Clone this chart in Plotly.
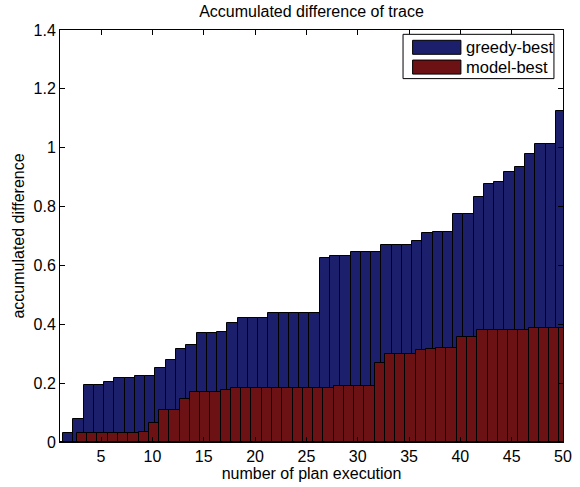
import plotly.graph_objects as go

runs = list(range(1, 51))
greedy_best = [0.0, 0.032, 0.078, 0.194, 0.194, 0.205, 0.218, 0.218, 0.225, 0.225,
               0.252, 0.278, 0.316, 0.329, 0.369, 0.369, 0.375, 0.406, 0.420, 0.420,
               0.420, 0.437, 0.437, 0.437, 0.437, 0.439, 0.624, 0.633, 0.633, 0.644,
               0.644, 0.644, 0.669, 0.669, 0.669, 0.683, 0.709, 0.714, 0.714, 0.776,
               0.776, 0.833, 0.878, 0.882, 0.918, 0.935, 0.980, 1.014, 1.014, 1.124]
model_best = [0.0, 0.0, 0.032, 0.032, 0.032, 0.032, 0.032, 0.032, 0.035, 0.063,
              0.109, 0.109, 0.146, 0.171, 0.171, 0.171, 0.177, 0.182, 0.182, 0.182,
              0.182, 0.182, 0.182, 0.182, 0.184, 0.184, 0.184, 0.190, 0.190, 0.190,
              0.190, 0.269, 0.299, 0.299, 0.299, 0.312, 0.316, 0.320, 0.320, 0.358,
              0.358, 0.380, 0.380, 0.382, 0.382, 0.382, 0.389, 0.389, 0.389, 0.389]
x_ticks = [5, 10, 15, 20, 25, 30, 35, 40, 45, 50]
y_ticks = [0, 0.2, 0.4, 0.6, 0.8, 1.0, 1.2, 1.4]
series_names = ["greedy-best", "model-best"]

BLUE = "#1c206c"
RED = "#6c1214"
FONT = "Liberation Sans, Arial, sans-serif"

fig = go.Figure()
fig.add_trace(go.Bar(x=runs, y=greedy_best, name=series_names[0], width=1.0, offset=-0.7,
                     marker=dict(color=BLUE, line=dict(color="black", width=1)),
                     showlegend=False))
fig.add_trace(go.Bar(x=runs, y=model_best, name=series_names[1], width=1.0, offset=-0.35,
                     marker=dict(color=RED, line=dict(color="black", width=1)),
                     showlegend=False))

axis_common = dict(showline=True, linecolor="black", linewidth=1, mirror="ticks",
                   ticks="inside", ticklen=5, tickcolor="black", showgrid=False,
                   zeroline=False, ticklabeloverflow="allow",
                   tickfont=dict(family=FONT, size=16, color="black"))

fig.update_xaxes(range=[1, 50], tickvals=x_ticks,
                 title=dict(text="number of plan execution",
                            font=dict(family=FONT, size=16, color="black"), standoff=0),
                 **axis_common)
fig.update_yaxes(range=[0, 1.4], tickvals=y_ticks,
                 title=dict(text="accumulated difference",
                            font=dict(family=FONT, size=16, color="black"), standoff=4),
                 **axis_common)

# legend box (MATLAB-style, wide swatches)
shapes = [
    dict(type="rect", xref="paper", yref="paper", x0=0.682, x1=0.982, y0=0.882, y1=0.9895,
         fillcolor="white", line=dict(color="black", width=1)),
    dict(type="rect", xref="paper", yref="paper", x0=0.701, x1=0.797, y0=0.941, y1=0.975,
         fillcolor=BLUE, line=dict(color="black", width=1)),
    dict(type="rect", xref="paper", yref="paper", x0=0.701, x1=0.797, y0=0.893, y1=0.927,
         fillcolor=RED, line=dict(color="black", width=1)),
]
annotations = [
    dict(xref="paper", yref="paper", x=0.804, y=0.958, text=series_names[0], showarrow=False,
         xanchor="left", yanchor="middle", font=dict(family=FONT, size=16.5, color="black")),
    dict(xref="paper", yref="paper", x=0.804, y=0.910, text=series_names[1], showarrow=False,
         xanchor="left", yanchor="middle", font=dict(family=FONT, size=16.5, color="black")),
]

fig.update_layout(
    width=580, height=487,
    margin=dict(l=60, r=8, t=30, b=45),
    barmode="overlay", bargap=0,
    plot_bgcolor="white", paper_bgcolor="white",
    title=dict(text="Accumulated difference of trace", x=0.5, xref="paper",
               y=1 - 11 / 487, yref="container", yanchor="middle",
               font=dict(family=FONT, size=16, color="black")),
    shapes=shapes, annotations=annotations,
)

fig.write_html("out.html")
